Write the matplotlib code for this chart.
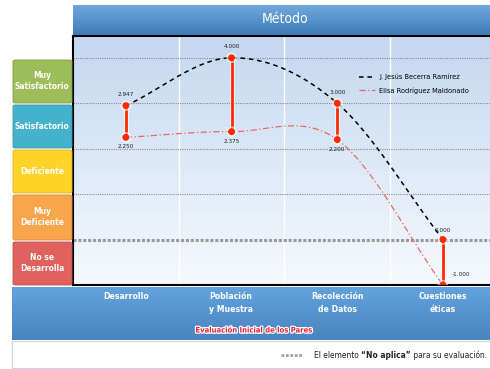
import numpy as np
import matplotlib
matplotlib.use("Agg")
import matplotlib.pyplot as plt
from matplotlib.patches import FancyBboxPatch, Rectangle
import matplotlib.patheffects as pe
from matplotlib.colors import LinearSegmentedColormap

plt.rcParams['font.family'] = ['DejaVu Sans']
plt.rcParams['font.stretch'] = 'condensed'

# datos
categorias = ['Desarrollo', 'Población\ny Muestra', 'Recolección\nde Datos', 'Cuestiones\néticas']
becerra = [2.947, 4.000, 3.000, 0.000]
rodriguez = [2.250, 2.375, 2.200, -1.000]
niveles = ['Muy\nSatisfactorio', 'Satisfactorio', 'Deficiente', 'Muy\nDeficiente', 'No se\nDesarrolla']
colores_niveles = ['#9DBD5A', '#45B2CB', '#FFD42A', '#F8A54C', '#E0625E']

W, H = 490, 369
def fx(x): return x / W
def fy(y): return 1 - y / H

def suave(y, n=40):
    # curva suavizada tipo Excel (Catmull-Rom)
    p = np.array(y, dtype=float)
    ext = np.concatenate([[2 * p[0] - p[1]], p, [2 * p[-1] - p[-2]]])
    xs, ys = [], []
    for i in range(len(p) - 1):
        p0, p1, p2, p3 = ext[i], ext[i + 1], ext[i + 2], ext[i + 3]
        t = np.linspace(0, 1, n)
        m1 = (p2 - p0) / 2
        m2 = (p3 - p1) / 2
        h00 = 2 * t**3 - 3 * t**2 + 1
        h10 = t**3 - 2 * t**2 + t
        h01 = -2 * t**3 + 3 * t**2
        h11 = t**3 - t**2
        xs.append(i + t)
        ys.append(h00 * p1 + h10 * m1 + h01 * p2 + h11 * m2)
    return np.concatenate(xs), np.concatenate(ys)

fig = plt.figure(figsize=(4.9, 3.69), dpi=100, facecolor='white')
grad = np.linspace(0, 1, 50).reshape(-1, 1)

# barra de titulo
axt = fig.add_axes([fx(73), fy(35), fx(490 - 73), (35 - 5) / H])
axt.imshow(grad, cmap=LinearSegmentedColormap.from_list('t', ['#6FA8DC', '#3F7CB8']),
           aspect='auto', extent=[0, 1, 0, 1])
axt.axis('off')
fig.text(fx(285), fy(19), 'Método', color='white', fontsize=10, ha='center', va='center')

# area principal
ax = fig.add_axes([fx(73), fy(285), fx(490 - 73), (285 - 36) / H])
ax.set_xlim(-0.5, 3.445)
ax.set_ylim(-1, 4.48)
ax.imshow(grad, cmap=LinearSegmentedColormap.from_list('b', ['#C5D8F0', '#F5F9FE']),
          aspect='auto', extent=[-0.5, 3.445, -1, 4.48], zorder=0)
for xv in [0.5, 1.5, 2.5]:
    ax.axvline(xv, color='white', lw=1, zorder=1)
for yv in [1, 2, 3, 4]:
    ax.axhline(yv, color='#8C8C8C', lw=0.8, ls=(0, (1, 1)), zorder=1)
ax.axhline(0, color='#9A9A9A', lw=2.2, ls=(0, (1, 0.6)), zorder=1)

xb, yb = suave(becerra)
xr, yr = suave(rodriguez)
ax.plot(xb, yb, color='black', lw=1.1, ls=(0, (3, 2.5)), zorder=3, label='J. Jesús Becerra Ramírez')
ax.plot(xr, yr, color='#E86A6A', lw=0.9, ls=(0, (5, 2, 1, 2)), zorder=3, label='Elisa Rodríguez Maldonado')

x = np.arange(len(categorias))
sombra = [pe.withStroke(linewidth=3.5, foreground='white', alpha=0.6)]
for i in range(len(x)):
    ax.plot([x[i], x[i]], [rodriguez[i], becerra[i]], color='#FF2A00', lw=2, zorder=4,
            marker='o', ms=4, path_effects=sombra)

for i in range(3):
    ax.annotate(f'{becerra[i]:.3f}', (x[i], becerra[i]), xytext=(0, 6), textcoords='offset points',
                ha='center', va='bottom', fontsize=4.6, color='#222222')
    ax.annotate(f'{rodriguez[i]:.3f}', (x[i], rodriguez[i]), xytext=(0, -5), textcoords='offset points',
                ha='center', va='top', fontsize=4.6, color='#222222')
ax.annotate(f'{becerra[3]:.3f}', (x[3], becerra[3]), xytext=(0, 5), textcoords='offset points',
            ha='center', va='bottom', fontsize=4.6, color='#222222')
ax.annotate(f'{rodriguez[3]:.3f}', (x[3], rodriguez[3]), xytext=(6, 6), textcoords='offset points',
            ha='left', va='bottom', fontsize=4.6, color='#222222')

ax.set_xticks([])
ax.set_yticks([])
for s in ['left', 'top', 'bottom']:
    ax.spines[s].set_linewidth(1.5)
    ax.spines[s].set_color('black')
ax.spines['right'].set_visible(False)

ax.legend(loc='upper left', bbox_to_anchor=(fx(352), fy(67)), bbox_transform=fig.transFigure,
          frameon=False, fontsize=5.3, handlelength=2.2, labelspacing=1.0, handletextpad=0.6)

# cajas de niveles
limites = [(59, 103), (104, 148), (149, 193), (194, 240), (241, 285)]
for (y0, y1), nombre, col in zip(limites, niveles, colores_niveles):
    borde = np.array(matplotlib.colors.to_rgb(col)) * 0.85
    caja = FancyBboxPatch((fx(13), fy(y1)), fx(72 - 13), (y1 - y0 - 1) / H,
                          boxstyle='round,pad=0,rounding_size=0.004', transform=fig.transFigure,
                          facecolor=col, edgecolor=borde, lw=0.6)
    fig.patches.append(caja)
    fig.text(fx(42), fy((y0 + y1) / 2), nombre, color='white', fontsize=6.0, fontweight='bold',
             ha='center', va='center', linespacing=1.3)

# banda inferior
axb = fig.add_axes([fx(12), fy(340), fx(490 - 12), (340 - 287) / H])
axb.imshow(grad, cmap=LinearSegmentedColormap.from_list('c', ['#62A3DE', '#4A84BE']),
           aspect='auto', extent=[0, 1, 0, 1])
axb.axis('off')
cat_px = [126, 231, 337, 443]
for cx, nombre in zip(cat_px, categorias):
    fig.text(fx(cx), fy(292), nombre, color='white', fontsize=6.2, fontweight='bold',
             ha='center', va='top', linespacing=1.5)
fig.text(fx(254), fy(330), 'Evaluación Inicial de los Pares', color='#E8203C', fontsize=5.5,
         fontweight='bold', ha='center', va='center',
         path_effects=[pe.withStroke(linewidth=1.8, foreground='white')])

# caja de nota
fig.patches.append(Rectangle((fx(12), fy(368)), fx(490 - 12), (368 - 341) / H,
                             transform=fig.transFigure, facecolor='white', edgecolor='#C8D4E4', lw=0.8))
fig.lines.append(plt.Line2D([fx(281), fx(303)], [fy(355), fy(355)], transform=fig.transFigure,
                            color='#A0A0A0', lw=2, ls=(0, (1, 0.6))))
partes = [('El elemento ', 'normal'), ('“No aplica”', 'bold'), (' para su evaluación.', 'normal')]
fig.canvas.draw()
r = fig.canvas.get_renderer()
tam = 6.3
textos = [fig.text(0, fy(355), txt, fontsize=tam, fontweight=peso, ha='left', va='center',
                   color='#222222', zorder=5) for txt, peso in partes]
anchos = [t.get_window_extent(renderer=r).width for t in textos]
escala = min(1.0, 172 / sum(anchos))
for t in textos:
    t.set_fontsize(tam * escala)
anchos = [t.get_window_extent(renderer=r).width for t in textos]
xpos = 487 - sum(anchos)
for t, w in zip(textos, anchos):
    t.set_x(fx(xpos))
    xpos += w

fig.savefig('out.png', dpi=100)
